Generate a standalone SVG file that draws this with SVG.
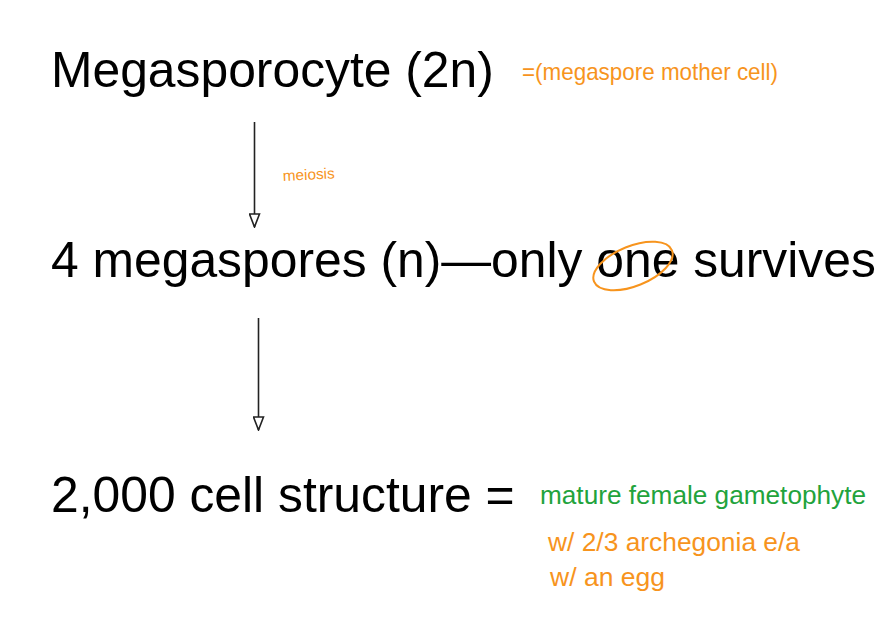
<svg xmlns="http://www.w3.org/2000/svg" width="884" height="624" viewBox="0 0 884 624">
<style>
.main{font-family:"Liberation Sans",Arial,sans-serif;font-size:49.8px;fill:#000}
.hand{font-family:"Liberation Sans",Arial,sans-serif;fill:#F7941D}
.green{fill:#22A33C}
.conn{stroke:#222;stroke-width:1.6;fill:none}
</style>
<defs>
<marker id="head" markerWidth="15" markerHeight="12" refX="14" refY="6" orient="auto" markerUnits="userSpaceOnUse" viewBox="0 0 15 12">
<path d="M1,1 L14,6 L1,11 Z" fill="#fff" stroke="#222" stroke-width="1.6"/>
</marker>
</defs>
<rect width="884" height="624" fill="#fff"/>
<g id="node-megasporocyte">
<text class="main" x="51" y="87">Megasporocyte (2n)</text>
<text class="hand" x="522" y="80" font-size="24" textLength="256" lengthAdjust="spacingAndGlyphs">=(megaspore mother cell)</text>
</g>
<g id="node-megaspores">
<text class="main" x="51" y="277">4 megaspores (n)—only one survives</text>
<ellipse cx="633" cy="266" rx="42" ry="20" transform="rotate(-22 633 266)" fill="none" stroke="#F7941D" stroke-width="2"/>
</g>
<g id="node-structure">
<text class="main" x="51" y="512">2,000 cell structure =</text>
<text class="hand green" x="540" y="504" font-size="26" textLength="326" lengthAdjust="spacingAndGlyphs">mature female gametophyte</text>
<text class="hand" x="548" y="551" font-size="25" textLength="252" lengthAdjust="spacingAndGlyphs">w/ 2/3 archegonia e/a</text>
<text class="hand" x="550" y="586" font-size="25" textLength="115" lengthAdjust="spacingAndGlyphs">w/ an egg</text>
</g>
<g id="connectors">
<line class="conn" x1="254.5" y1="122" x2="254.5" y2="227" marker-end="url(#head)"/>
<text class="hand" x="283" y="181" font-size="15" textLength="52" lengthAdjust="spacingAndGlyphs" transform="rotate(-3 283 181)">meiosis</text>
<line class="conn" x1="258.5" y1="318" x2="258.5" y2="430" marker-end="url(#head)"/>
</g>
</svg>
